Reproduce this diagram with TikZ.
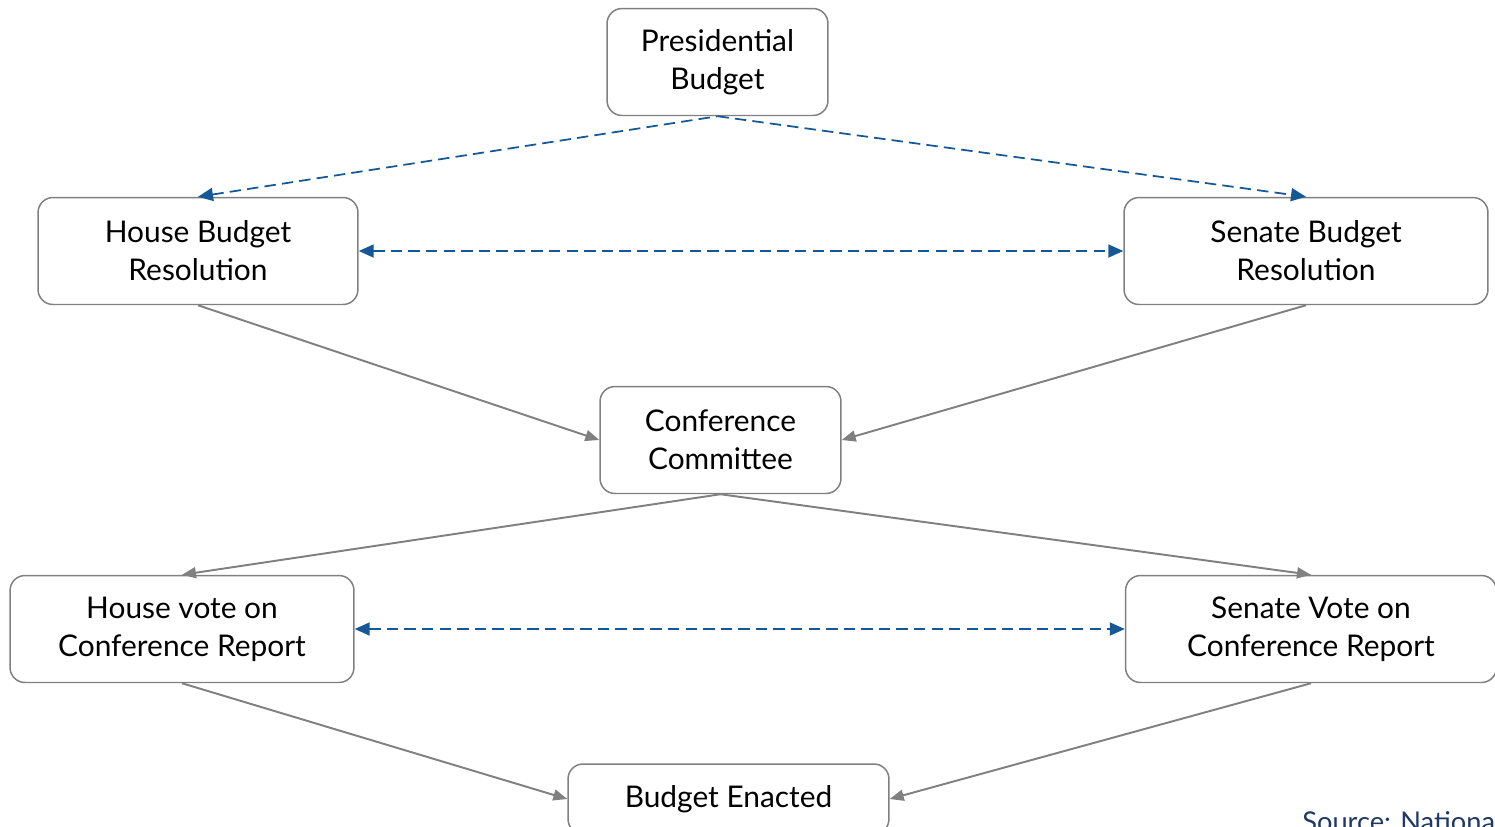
\documentclass[tikz,border=0pt]{standalone}
\usepackage{fontspec}
\setmainfont{Lato}
\usetikzlibrary{arrows.meta}
\definecolor{flowblue}{RGB}{22,88,150}
\definecolor{flowgray}{RGB}{128,128,128}
\definecolor{srcblue}{RGB}{31,56,100}

\begin{document}
\begin{tikzpicture}[x=0.02cm, y=-0.02cm,
    stage/.style={draw=flowgray, line width=0.85pt, rounded corners=0.3cm, align=center,
                  minimum height=2.14cm, fill=white, font=\fontsize{17}{21.6}\selectfont},
    vote/.style={flowgray, line width=1.1pt, -{Triangle[length=0.28cm, width=0.22cm]}},
    tip/.style={Triangle[length=0.3cm, width=0.26cm]},
    link/.style={flowblue, line width=1pt, dash pattern=on 6.5pt off 3.5pt,
                 {Triangle[length=0.3cm, width=0.26cm]}-{Triangle[length=0.3cm, width=0.26cm]}},
    ]
    \useasboundingbox (0,0) rectangle (1495,826);
    \clip (0,0) rectangle (1495,826);

    % stages of the budget process
    \node[stage, minimum width=4.42cm] (pres)   at (717.5,62)  {Presidential\\Budget};
    \node[stage, minimum width=6.40cm] (hres)   at (198,251)   {House Budget\\Resolution};
    \node[stage, minimum width=7.28cm] (sres)   at (1306,251)  {Senate Budget\\Resolution};
    \node[stage, minimum width=4.82cm] (conf)   at (720.5,440) {Conference\\Committee};
    \node[stage, minimum width=6.88cm] (hvote)  at (182,629)   {House vote on\\Conference Report};
    \node[stage, minimum width=7.42cm] (svote)  at (1311,629)  {Senate Vote on\\Conference Report};
    \node[stage, minimum width=6.42cm, minimum height=1.40cm] (enact) at (728.5,799) {Budget Enacted};

    % source line, cut by the page edge
    \node[anchor=north west, inner sep=0pt, text=srcblue,
          font=\fontsize{15.5}{18}\selectfont] (src) at (1302,811) {Source: National};

    % proposal and exchanges (dashed)
    \draw[link, {Triangle[length=0.3cm, width=0.26cm]}-] (hres.north) -- (pres.south);
    \draw[link, -{Triangle[length=0.3cm, width=0.26cm]}] (pres.south) -- (sres.north);
    \draw[link] (hres.east) -- (sres.west);
    \draw[link] (hvote.east) -- (svote.west);

    % formal steps
    \draw[vote] (hres.south) -- (conf.west);
    \draw[vote] (sres.south) -- (conf.east);
    \draw[vote] (conf.south) -- (hvote.north);
    \draw[vote] (conf.south) -- (svote.north);
    \draw[vote] (hvote.south) -- (enact.west);
    \draw[vote] (svote.south) -- (enact.east);
\end{tikzpicture}
\end{document}
